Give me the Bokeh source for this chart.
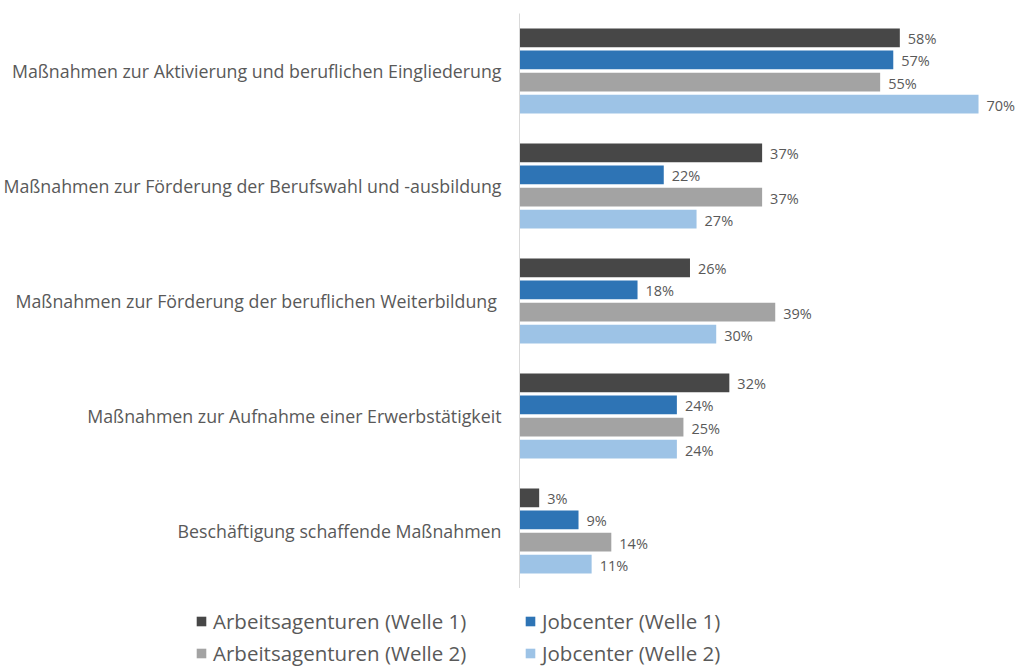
from bokeh.plotting import figure
from bokeh.models import ColumnDataSource, FactorRange, Range1d, Legend, LegendItem
from bokeh.transform import dodge
from bokeh.core.properties import value
from bokeh.embed import file_html
from bokeh.resources import INLINE

categories = [
    "Maßnahmen zur Aktivierung und beruflichen Eingliederung",
    "Maßnahmen zur Förderung der Berufswahl und -ausbildung",
    "Maßnahmen zur Förderung der beruflichen Weiterbildung ",
    "Maßnahmen zur Aufnahme einer Erwerbstätigkeit",
    "Beschäftigung schaffende Maßnahmen",
]
series_names = [
    "Arbeitsagenturen (Welle 1)",
    "Jobcenter (Welle 1)",
    "Arbeitsagenturen (Welle 2)",
    "Jobcenter (Welle 2)",
]
aa_w1 = [58, 37, 26, 32, 3]
jc_w1 = [57, 22, 18, 24, 9]
aa_w2 = [55, 37, 39, 25, 14]
jc_w2 = [70, 27, 30, 24, 11]
colors = ["#474747", "#2e74b5", "#a3a3a3", "#9dc3e6"]

series = [aa_w1, jc_w1, aa_w2, jc_w2]
offsets = [0.287, 0.0957, -0.0957, -0.287]

FONT = "Open Sans"
TXT = "#595959"

p = figure(
    width=1019, height=588,
    y_range=FactorRange(*list(reversed(categories))),
    x_range=Range1d(0, 76.25),
    output_backend="svg", toolbar_location=None,
    min_border_left=518, min_border_right=0, min_border_top=13, min_border_bottom=0,
)
p.outline_line_color = None
p.xgrid.visible = False
p.ygrid.visible = False
p.xaxis.visible = False

ax = p.yaxis[0]
ax.axis_line_color = "#d9d9d9"
ax.axis_line_width = 1
ax.major_tick_line_color = None
ax.minor_tick_line_color = None
ax.major_label_standoff = 12
ax.major_label_text_font = FONT
ax.major_label_text_font_size = "17.8px"
ax.major_label_text_color = TXT

for name, vals, col, off in zip(series_names, series, colors, offsets):
    src = ColumnDataSource(dict(cat=categories, v=vals, lbl=[f"{v}%" for v in vals]))
    p.hbar(y=dodge("cat", off, range=p.y_range), right="v", left=0, height=0.163,
           source=src, fill_color=col, line_color=None)
    p.text(x="v", y=dodge("cat", off, range=p.y_range), text="lbl", source=src,
           x_offset=8, y_offset=1, text_baseline="middle", text_align="left",
           text_font=value(FONT), text_font_size="14.5px", text_color=TXT)

# legend strip below the chart (separate root, so its frame starts at x=0)
lg = figure(
    width=1019, height=80, x_range=Range1d(0, 1), y_range=Range1d(0, 1),
    output_backend="svg", toolbar_location=None,
    min_border_left=0, min_border_right=0, min_border_top=0, min_border_bottom=0,
)
lg.axis.visible = False
lg.grid.visible = False
lg.outline_line_color = None

items = []
for name, col in zip(series_names, colors):
    r = lg.hbar(y=[-5], right=[-5], left=-6, height=0.1, fill_color=col, line_color=None)
    items.append(LegendItem(label=name, renderers=[r]))

legend = Legend(
    items=items, orientation="horizontal", ncols=2,
    location=(195, 1),
    glyph_width=12, glyph_height=12, label_standoff=6,
    label_width=307, label_height=20, spacing=4,
    padding=0, margin=0,
    border_line_color=None, background_fill_alpha=0,
    label_text_font=FONT, label_text_font_size="20.5px", label_text_color=TXT,
)
lg.add_layout(legend, "center")

open("out.html", "w").write(file_html([p, lg], INLINE))
